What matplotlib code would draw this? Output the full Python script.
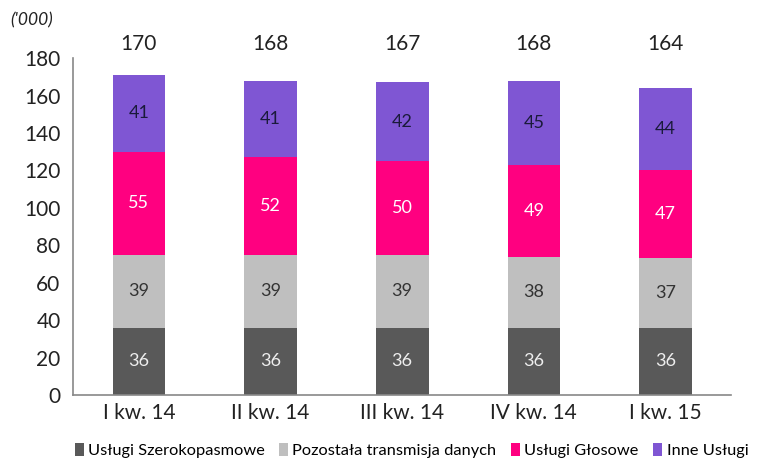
import matplotlib
matplotlib.use("Agg")
import matplotlib.pyplot as plt
import numpy as np

categories = ["I kw. 14", "II kw. 14", "III kw. 14", "IV kw. 14", "I kw. 15"]
series_names = ["Usługi Szerokopasmowe", "Pozostała transmisja danych", "Usługi Głosowe", "Inne Usługi"]
broadband = [36, 36, 36, 36, 36]
other_data = [39, 39, 39, 38, 37]
voice = [55, 52, 50, 49, 47]
other_services = [41, 41, 42, 45, 44]
totals = [170, 168, 167, 168, 164]

series = [broadband, other_data, voice, other_services]
colors = ["#595959", "#bfbfbf", "#ff0080", "#7f56d3"]
text_colors = ["#eeeeee", "#333333", "#ffffff", "#1a1a3a"]

plt.rcParams['font.family'] = ['Lato', 'DejaVu Sans']

fig = plt.figure(figsize=(7.69, 4.61), dpi=100)
ax = fig.add_axes([0.095, 0.143, 0.856, 0.731])

x = np.arange(len(categories))
bottom = np.zeros(len(categories))
handles = []
for vals, c, tc, name in zip(series, colors, text_colors, series_names):
    vals = np.array(vals, dtype=float)
    b = ax.bar(x, vals, 0.4, bottom=bottom, color=c, label=name)
    handles.append(b)
    for xi, v, bt in zip(x, vals, bottom):
        ax.text(xi, bt + v / 2, f"{int(v)}", ha="center", va="center",
                fontsize=13, color=tc)
    bottom += vals

for xi, t in zip(x, totals):
    ax.text(xi, 187.5, str(t), ha="center", va="center", fontsize=15,
            color="#222222", clip_on=False)

ax.set_xlim(-0.5, len(categories) - 0.5)
ax.set_ylim(0, 180)
ax.set_yticks(np.arange(0, 181, 20))
ax.set_xticks(x)
ax.set_xticklabels(categories, fontsize=15, color="#222222")
ax.tick_params(axis="y", labelsize=15, colors="#222222", length=0, pad=9)
ax.tick_params(axis="x", length=0, pad=6)
for s in ["top", "right"]:
    ax.spines[s].set_visible(False)
ax.spines["left"].set_color("#888888")
ax.spines["bottom"].set_color("#888888")
ax.spines["left"].set_linewidth(1.2)
ax.spines["bottom"].set_linewidth(1.2)

fig.text(0.013, 0.955, "('000)", fontsize=12.5, style="italic", color="#222222",
         ha="left", va="center")

fig.legend(handles=handles, labels=series_names, loc="center",
           bbox_to_anchor=(0.535, 0.022), ncol=4, frameon=False,
           fontsize=11.8, handlelength=0.55, handleheight=0.8,
           handletextpad=0.25, columnspacing=0.9, borderpad=0.1)

fig.savefig("out.png", dpi=100)
